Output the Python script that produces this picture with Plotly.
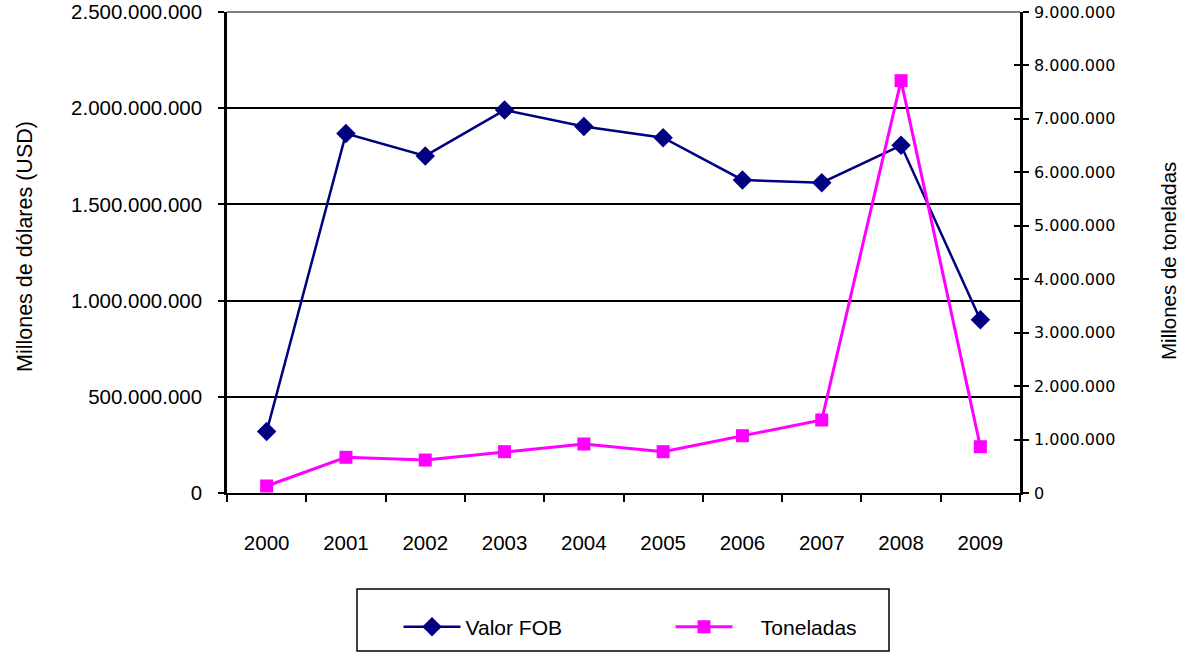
import plotly.graph_objects as go

# Exports by year: FOB value (USD) and volume (tonnes)
years = ["2000", "2001", "2002", "2003", "2004", "2005", "2006", "2007", "2008", "2009"]
valor_fob = [319e6, 1868e6, 1752e6, 1990e6, 1905e6, 1847e6, 1627e6, 1613e6, 1807e6, 901e6]
toneladas = [131e3, 668e3, 617e3, 773e3, 917e3, 773e3, 1072e3, 1366e3, 7715e3, 866e3]

left_ticks = [0, 5e8, 1e9, 1.5e9, 2e9, 2.5e9]
left_labels = ["0", "500.000.000", "1.000.000.000", "1.500.000.000", "2.000.000.000", "2.500.000.000"]
right_ticks = [i * 1e6 for i in range(10)]
right_labels = ["0"] + [f"{i}.000.000" for i in range(1, 10)]

W, H = 1185, 652
L, R, T, B = 227, 1020, 12, 493
pw, ph = R - L, B - T


def px(x):
    return (x - L) / pw


def py(y):
    return (B - y) / ph


ARIAL = "Liberation Sans, Arial, sans-serif"
NAVY = "#000080"
MAGENTA = "#FF00FF"
NBSP = "\u00a0"

fig = go.Figure()
fig.add_trace(go.Scatter(
    x=years, y=valor_fob, name="Valor FOB", mode="lines+markers",
    line=dict(color=NAVY, width=2.5),
    marker=dict(symbol="diamond", size=15, color=NAVY),
    yaxis="y",
))
fig.add_trace(go.Scatter(
    x=years, y=toneladas, name=NBSP * 4 + "Toneladas", mode="lines+markers",
    line=dict(color=MAGENTA, width=3),
    marker=dict(symbol="square", size=13, color=MAGENTA),
    yaxis="y2",
))
# invisible helper trace so the inward half of the right-axis ticks is drawn
fig.add_trace(go.Scatter(x=years, y=toneladas, yaxis="y3", showlegend=False,
                         mode="markers", marker=dict(opacity=0), hoverinfo="skip"))

fig.update_layout(
    width=W, height=H,
    margin=dict(l=L, r=W - R, t=T, b=H - B, pad=0, autoexpand=False),
    paper_bgcolor="white", plot_bgcolor="white",
    showlegend=True,
    xaxis=dict(
        type="category", range=[-0.5, 9.5], automargin=False,
        showline=True, linecolor="black", linewidth=2,
        ticks="outside", tickson="boundaries", ticklen=7, tickwidth=2, tickcolor="black",
        showgrid=False, ticklabelstandoff=30,
        tickfont=dict(family=ARIAL, size=20.5, color="black"),
    ),
    yaxis=dict(
        range=[0, 2.5e9], tickvals=left_ticks, ticktext=left_labels, automargin=False,
        showline=True, linecolor="black", linewidth=2.5,
        ticks="outside", ticklen=6, tickwidth=2, tickcolor="black",
        showgrid=True, gridcolor="black", gridwidth=2, zeroline=False,
        ticklabelstandoff=12,
        tickfont=dict(family=ARIAL, size=20.5, color="black"),
    ),
    yaxis2=dict(
        range=[0, 9e6], tickvals=right_ticks, ticktext=right_labels, automargin=False,
        overlaying="y", side="right", anchor="x",
        showline=True, linecolor="black", linewidth=2.5,
        ticks="outside", ticklen=6, tickwidth=2, tickcolor="black",
        showgrid=False, zeroline=False, ticklabelstandoff=2,
        tickfont=dict(family="DejaVu Sans, sans-serif", size=16, color="black"),
    ),
    yaxis3=dict(
        range=[0, 9e6], tickvals=right_ticks, overlaying="y", side="right", anchor="x",
        automargin=False,
        showline=False, ticks="inside", ticklen=6, tickwidth=2, tickcolor="black",
        showticklabels=False, showgrid=False, zeroline=False,
    ),
    legend=dict(
        orientation="h", x=px(398.5), y=py(627), xanchor="left", yanchor="middle",
        bgcolor="rgba(0,0,0,0)", borderwidth=0,
        itemwidth=57, entrywidth=200, entrywidthmode="pixels",
        font=dict(family=ARIAL, size=21, color="black"),
    ),
    shapes=[
        # grey top border of the plot area
        dict(type="line", xref="paper", yref="paper", x0=0, x1=1, y0=1, y1=1,
             line=dict(color="#808080", width=2)),
        # legend frame
        dict(type="rect", xref="paper", yref="paper",
             x0=px(357), x1=px(889), y0=py(589), y1=py(651),
             line=dict(color="black", width=1.5), fillcolor="rgba(0,0,0,0)", layer="below"),
    ],
    annotations=[
        dict(text="Millones de dólares (USD)", textangle=-90, xref="paper", yref="paper",
             x=px(25), y=py(246), xanchor="center", yanchor="middle", showarrow=False,
             font=dict(family=ARIAL, size=21.5, color="black")),
        dict(text="Millones de toneladas", textangle=-90, xref="paper", yref="paper",
             x=px(1168), y=py(261), xanchor="center", yanchor="middle", showarrow=False,
             font=dict(family=ARIAL, size=20.5, color="black")),
    ],
)

fig.write_html("out.html")
